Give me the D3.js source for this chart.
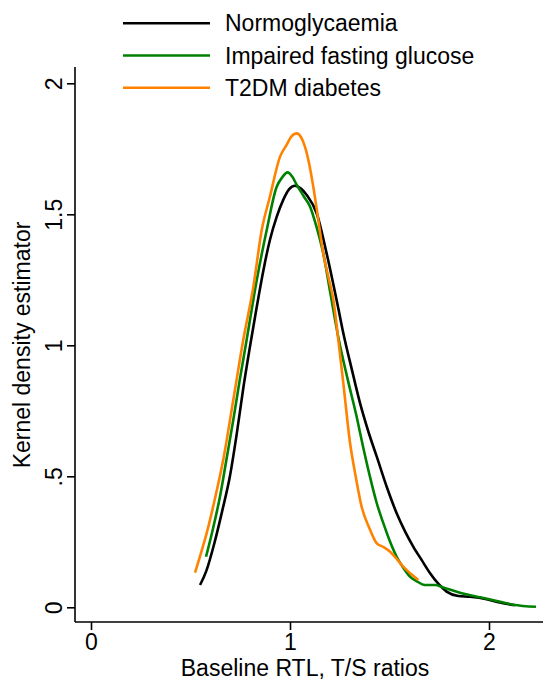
<!DOCTYPE html>
<html>
<head>
<meta charset="utf-8">
<script src="https://cdn.jsdelivr.net/npm/d3@7"></script>
<style>
  body { margin: 0; background: #fff; }
  svg { display: block; font-family: "Liberation Sans", Arial, sans-serif; }
</style>
</head>
<body>
<div class="chart"></div>
<script>
const seriesNames = ["Normoglycaemia", "Impaired fasting glucose", "T2DM diabetes"];
const seriesColors = ["#000000", "#008000", "#ff8200"];

// [T/S ratio, density]
const normoglycaemia = [
  [0.548,0.085],[0.58,0.14],[0.62,0.245],[0.66,0.37],[0.698,0.5],[0.732,0.66],
  [0.765,0.835],[0.8,1.0],[0.833,1.147],[0.866,1.285],[0.899,1.402],[0.933,1.49],
  [0.966,1.555],[0.995,1.595],[1.025,1.609],[1.055,1.598],[1.084,1.574],[1.134,1.504],
  [1.184,1.351],[1.243,1.14],[1.268,1.046],[1.31,0.91],[1.352,0.779],[1.394,0.67],
  [1.436,0.575],[1.486,0.46],[1.536,0.359],[1.578,0.29],[1.62,0.231],[1.662,0.18],
  [1.704,0.13],[1.745,0.09],[1.787,0.06],[1.846,0.043],[1.905,0.04],[1.988,0.031],
  [2.055,0.018],[2.13,0.008]
];
const impairedFasting = [
  [0.578,0.193],[0.613,0.3],[0.648,0.422],[0.682,0.57],[0.715,0.715],[0.748,0.87],
  [0.782,1.02],[0.833,1.249],[0.883,1.44],[0.933,1.605],[0.96,1.64],[0.988,1.66],
  [1.01,1.645],[1.034,1.612],[1.068,1.57],[1.101,1.529],[1.134,1.45],[1.167,1.351],
  [1.205,1.19],[1.243,1.03],[1.29,0.87],[1.335,0.727],[1.368,0.61],[1.402,0.498],
  [1.435,0.4],[1.469,0.321],[1.503,0.25],[1.536,0.193],[1.57,0.15],[1.603,0.117],
  [1.636,0.1],[1.678,0.085],[1.729,0.085],[1.77,0.076],[1.854,0.056],[1.955,0.038],
  [2.039,0.024],[2.122,0.01],[2.236,0.002]
];
const t2dm = [
  [0.523,0.132],[0.55,0.2],[0.581,0.282],[0.623,0.415],[0.665,0.565],[0.715,0.791],
  [0.765,1.02],[0.816,1.224],[0.858,1.44],[0.899,1.567],[0.95,1.72],[0.983,1.765],
  [1.005,1.795],[1.034,1.809],[1.055,1.795],[1.075,1.758],[1.097,1.69],[1.117,1.605],
  [1.142,1.48],[1.167,1.351],[1.193,1.26],[1.218,1.173],[1.243,1.02],[1.268,0.855],
  [1.302,0.626],[1.33,0.5],[1.36,0.384],[1.4,0.3],[1.436,0.244],[1.47,0.23],
  [1.503,0.212],[1.536,0.185],[1.569,0.155],[1.607,0.128],[1.645,0.104]
];

const xTicks = [0, 1, 2];
const yTicks = [0, 0.5, 1, 1.5, 2];
const yTickLabels = ["0", ".5", "1", "1.5", "2"];

const width = 543, height = 680;
const plotLeft = 75, plotTop = 67, plotBottom = 622;

const svg = d3.select(".chart")
  .append("svg")
  .attr("width", width)
  .attr("height", height);

const x = d3.scaleLinear().domain([0, 2]).range([91, 489]);
const y = d3.scaleLinear().domain([0, 2]).range([607.3, 83.3]);

// X axis
const xAxis = svg.append("g")
  .attr("transform", `translate(0, ${plotBottom})`)
  .call(d3.axisBottom(x).tickValues(xTicks).tickFormat(d3.format("d")).tickSize(8).tickPadding(4));
xAxis.select(".domain").remove();
xAxis.selectAll("line").attr("stroke-width", 1.6);
xAxis.selectAll("text").style("font-size", "23px").attr("fill", "#000");
xAxis.append("line")
  .attr("x1", plotLeft).attr("x2", width)
  .attr("stroke", "#000").attr("stroke-width", 1.6);

// Y axis
const yAxis = svg.append("g")
  .attr("transform", `translate(${plotLeft}, 0)`)
  .call(d3.axisLeft(y).tickValues(yTicks).tickFormat((d, i) => yTickLabels[i]).tickSize(8));
yAxis.select(".domain").remove();
yAxis.selectAll("line").attr("stroke-width", 1.6);
yAxis.selectAll("text")
  .style("font-size", "23px")
  .attr("fill", "#000")
  .attr("x", 0).attr("dy", 0)
  .attr("text-anchor", "middle")
  .attr("transform", "translate(-13, 0) rotate(-90)");
yAxis.append("line")
  .attr("y1", plotTop).attr("y2", plotBottom)
  .attr("stroke", "#000").attr("stroke-width", 1.6);

// axis titles
svg.append("text")
  .attr("x", 305).attr("y", 676)
  .attr("text-anchor", "middle")
  .style("font-size", "23px")
  .text("Baseline RTL, T/S ratios");

svg.append("text")
  .attr("transform", "translate(29.5, 345) rotate(-90)")
  .attr("text-anchor", "middle")
  .style("font-size", "23px")
  .text("Kernel density estimator");

// curves
const line = d3.line()
  .x(d => x(d[0]))
  .y(d => y(d[1]))
  .curve(d3.curveMonotoneX);

const allSeries = [normoglycaemia, impairedFasting, t2dm];
svg.selectAll("path.curve")
  .data(allSeries)
  .enter()
  .append("path")
  .attr("class", "curve")
  .attr("d", line)
  .attr("fill", "none")
  .attr("stroke", (d, i) => seriesColors[i])
  .attr("stroke-width", 2.6)
  .attr("stroke-linejoin", "round");

// legend
const legend = svg.selectAll("g.legend")
  .data(seriesNames)
  .enter()
  .append("g")
  .attr("class", "legend")
  .attr("transform", (d, i) => `translate(123, ${23.3 + i * 32.2})`);

legend.append("line")
  .attr("x1", 0).attr("x2", 87)
  .attr("stroke", (d, i) => seriesColors[i])
  .attr("stroke-width", 2.6);

legend.append("text")
  .attr("x", 102)
  .attr("dy", "0.35em")
  .style("font-size", "23px")
  .text(d => d);
</script>
</body>
</html>
